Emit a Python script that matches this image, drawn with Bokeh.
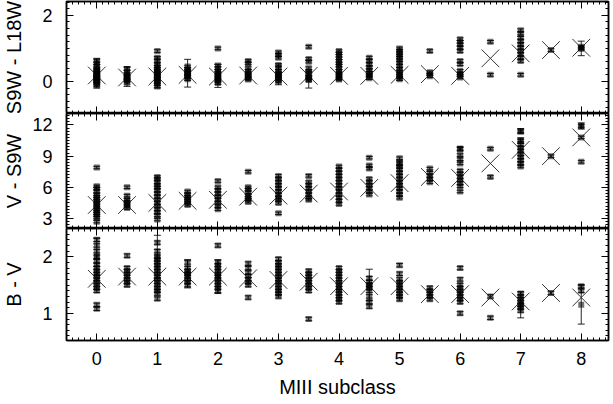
from bokeh.plotting import figure
from bokeh.models import (Range1d, LinearAxis, SingleIntervalTicker, ColumnDataSource,
                          Whisker, TeeHead)
from bokeh.layouts import column
from bokeh.embed import file_html
from bokeh.resources import INLINE

# ---------------- data ----------------
subclasses = [0, 0.5, 1, 1.5, 2, 2.5, 3, 3.5, 4, 4.5, 5, 5.5, 6, 6.5, 7, 7.5, 8]

# S9W - L18W
top_means = [0.18, 0.12, 0.15, 0.2, 0.15, 0.18, 0.15, 0.17, 0.17, 0.17, 0.2, 0.22, 0.17,
             0.7, 0.85, 0.95, 1.02]
top_stars = {
    0: [0.62, 0.55, 0.47, 0.4, 0.35, 0.3, 0.26, 0.22, 0.19, 0.16, 0.13, 0.1, 0.07, 0.04,
        0.01, -0.03, -0.07, -0.12],
    0.5: [0.38, 0.3, 0.22, 0.17, 0.13, 0.1, 0.06, 0.02, -0.04],
    1: [0.92, 0.72, 0.62, 0.52, 0.45, 0.38, 0.32, 0.26, 0.21, 0.16, 0.12, 0.08, 0.03,
        -0.02, -0.08, -0.15],
    1.5: [0.45, 0.38, 0.32, 0.26, 0.21, 0.16, 0.12, 0.07],
    2: [1.0, 0.48, 0.4, 0.32, 0.26, 0.2, 0.15, 0.1, 0.05, 0.0, -0.05],
    2.5: [0.62, 0.55, 0.4, 0.32, 0.25, 0.2, 0.15, 0.1, 0.06],
    3: [0.88, 0.8, 0.72, 0.5, 0.4, 0.32, 0.25, 0.2, 0.15, 0.1, 0.05, 0.0],
    3.5: [1.05, 0.68, 0.6, 0.4, 0.3, 0.22, 0.15, 0.1, 0.05],
    4: [0.92, 0.85, 0.78, 0.7, 0.62, 0.55, 0.48, 0.4, 0.32, 0.25, 0.2, 0.15, 0.1, 0.06],
    4.5: [0.72, 0.62, 0.52, 0.42, 0.34, 0.26, 0.2, 0.15, 0.1],
    5: [1.0, 0.93, 0.86, 0.79, 0.72, 0.64, 0.56, 0.47, 0.38, 0.3, 0.24, 0.18, 0.12, 0.07],
    5.5: [0.92, 0.28, 0.22, 0.16],
    6: [1.28, 1.2, 1.12, 1.02, 0.92, 0.62, 0.52, 0.32, 0.24, 0.18, 0.12],
    6.5: [1.2, 0.2],
    7: [1.55, 1.45, 1.32, 1.22, 1.12, 1.02, 0.92, 0.82, 0.72, 0.62, 0.2],
    7.5: [0.95],
    8: [1.05, 1.0],
}
top_err = 0.04
top_wide = [(0, 0.25, 0.45), (0.5, 0.15, 0.3), (1, 0.27, 0.47), (1.5, 0.25, 0.42),
            (2, 0.17, 0.35), (3, 0.2, 0.3), (3.5, 0.05, 0.25), (8, 1.0, 0.22)]

# V - S9W
mid_means = [4.3, 4.3, 4.5, 4.7, 4.8, 5.1, 5.2, 5.4, 5.6, 5.95, 6.4, 7.0, 6.9, 8.3, 9.6,
             9.0, 10.8]
mid_stars = {
    0: [7.9, 6.1, 5.9, 5.6, 5.3, 5.1, 4.9, 4.7, 4.5, 4.3, 4.1, 3.9, 3.7, 3.5, 3.3, 3.1, 2.7],
    0.5: [6.0, 5.2, 4.8, 4.6, 4.4, 4.2, 4.0],
    1: [7.0, 6.8, 6.5, 6.2, 6.0, 5.7, 5.4, 5.1, 4.8, 4.5, 4.2, 3.9, 3.6, 3.3, 2.9],
    1.5: [5.6, 5.3, 5.1, 4.9, 4.7, 4.5, 4.3],
    2: [6.6, 6.0, 5.7, 5.4, 5.1, 4.8, 4.5, 4.2, 3.9],
    2.5: [7.5, 6.0, 5.8, 5.5, 5.2, 5.0, 4.8, 4.6],
    3: [7.1, 6.8, 6.5, 6.2, 5.9, 5.6, 5.3, 5.0, 4.8, 4.5, 3.5],
    3.5: [7.1, 6.5, 6.2, 5.9, 5.6, 5.3, 5.0, 4.8],
    4: [8.0, 7.7, 7.4, 7.1, 6.8, 6.5, 6.2, 5.9, 5.6, 5.3, 5.0, 4.7, 4.4],
    4.5: [8.85, 8.1, 7.8, 6.8, 6.5, 6.2, 5.9, 5.6, 5.3],
    5: [8.8, 8.3, 8.0, 7.7, 7.4, 7.1, 6.8, 6.5, 6.2, 5.9, 5.6, 5.3, 5.0],
    5.5: [7.8, 7.4, 7.1, 6.8, 6.5],
    6: [9.7, 9.1, 8.7, 8.3, 7.6, 7.3, 7.0, 6.7, 6.4, 6.1, 5.6],
    6.5: [9.7, 7.0],
    7: [11.4, 10.5, 10.1, 9.8, 9.5, 9.2, 8.9, 8.6, 8.3, 8.0],
    7.5: [9.0],
    8: [11.9, 10.8, 8.45],
}
mid_err = 0.12
mid_wide = [(7, 11.4, 0.25), (7, 10.5, 0.25), (8, 11.9, 0.3), (5, 8.3, 0.25),
            (6, 9.7, 0.2)]

# B - V
bot_means = [1.61, 1.65, 1.65, 1.65, 1.65, 1.62, 1.59, 1.56, 1.48, 1.48, 1.48, 1.34, 1.34,
             1.28, 1.21, 1.36, 1.28]
bot_stars = {
    0: [2.3, 2.2, 2.1, 2.0, 1.92, 1.86, 1.8, 1.75, 1.7, 1.65, 1.6, 1.55, 1.5, 1.45, 1.4,
        1.15, 1.08],
    0.5: [2.02, 1.8, 1.75, 1.7, 1.65, 1.6, 1.55, 1.5],
    1: [2.25, 2.1, 2.0, 1.95, 1.9, 1.85, 1.8, 1.75, 1.7, 1.65, 1.6, 1.55, 1.5, 1.45, 1.4,
        1.35, 1.26],
    1.5: [1.9, 1.8, 1.75, 1.7, 1.65, 1.6, 1.55, 1.5],
    2: [2.2, 1.9, 1.85, 1.8, 1.75, 1.7, 1.65, 1.6, 1.55, 1.5, 1.45, 1.4],
    2.5: [1.88, 1.8, 1.72, 1.66, 1.6, 1.55, 1.5, 1.28],
    3: [1.96, 1.9, 1.85, 1.8, 1.75, 1.7, 1.65, 1.6, 1.55, 1.5, 1.45, 1.4, 1.35, 1.3],
    3.5: [1.75, 1.7, 1.65, 1.6, 1.55, 1.5, 1.45, 1.4, 0.9],
    4: [1.8, 1.75, 1.7, 1.65, 1.6, 1.55, 1.5, 1.45, 1.4, 1.35, 1.3, 1.25, 1.2],
    4.5: [1.62, 1.55, 1.5, 1.45, 1.4, 1.3, 1.2, 1.12],
    5: [1.85, 1.7, 1.6, 1.55, 1.5, 1.45, 1.4, 1.35, 1.3, 1.25],
    5.5: [1.45, 1.4, 1.35, 1.3, 1.25],
    6: [1.8, 1.6, 1.5, 1.45, 1.4, 1.35, 1.3, 1.25, 1.2, 1.0],
    6.5: [1.3, 0.92],
    7: [1.35, 1.3, 1.25, 1.2, 1.15, 1.1, 1.05],
    7.5: [1.36],
    8: [1.48, 1.4],
}
bot_err = 0.03
bot_wide = [(0, 2.0, 0.33), (1, 2.0, 0.38), (1.5, 1.7, 0.25), (4.5, 1.5, 0.28),
            (8, 1.15, 0.34), (7, 1.15, 0.23), (2, 1.65, 0.3)]

# ---------------- plotting ----------------
FONT = "Liberation Sans"
x_range = Range1d(-0.5, 8.45)


def flatten(stars, err, wide):
    xs, lo, hi, ys = [], [], [], []
    for k, vals in stars.items():
        for v in vals:
            xs.append(k); ys.append(v); lo.append(v - err); hi.append(v + err)
    for k, v, e in wide:
        xs.append(k); ys.append(v); lo.append(v - e); hi.append(v + e)
    return ColumnDataSource(dict(x=xs, y=ys, lo=lo, hi=hi))


def style_axis(ax, labels):
    ax.major_tick_in = 7
    ax.major_tick_out = 0
    ax.minor_tick_in = 3
    ax.minor_tick_out = 0
    ax.axis_line_color = "black"
    ax.axis_line_width = 1.5
    ax.major_tick_line_color = "black"
    ax.minor_tick_line_color = "black"
    ax.major_tick_line_width = 1
    ax.minor_tick_line_width = 1
    if labels:
        ax.major_label_text_font = FONT
        ax.major_label_text_font_size = "18px"
        ax.major_label_text_color = "black"
        ax.major_label_standoff = 14
        ax.axis_label_text_font = FONT
        ax.axis_label_text_font_size = "20px"
        ax.axis_label_text_font_style = "normal"
        ax.axis_label_text_color = "black"
    else:
        ax.major_label_text_color = None
        ax.major_label_text_font_size = "0px"
        ax.major_label_standoff = 0


def panel(stars, err, wide, means, yr, interval, ylabel, label_standoff,
          frame_h, b_top, b_bottom, show_x):
    p = figure(width=611, height=frame_h + b_top + b_bottom, x_range=x_range,
               y_range=Range1d(*yr), output_backend="svg", toolbar_location=None,
               min_border_left=65, min_border_right=3, min_border_top=b_top,
               min_border_bottom=b_bottom, x_axis_location=None, y_axis_location=None)
    p.outline_line_color = "black"
    p.outline_line_width = 1.5
    p.background_fill_color = "white"
    p.border_fill_color = "white"
    p.xgrid.visible = False
    p.ygrid.visible = False

    xt = SingleIntervalTicker(interval=1, num_minor_ticks=10)
    yt = SingleIntervalTicker(interval=interval, num_minor_ticks=10)

    xb = LinearAxis(ticker=xt)
    style_axis(xb, show_x)
    if show_x:
        xb.axis_label = "MIII subclass"
        xb.major_label_standoff = 11
        xb.axis_label_standoff = 8
    p.add_layout(xb, "below")
    xa = LinearAxis(ticker=xt)
    style_axis(xa, False)
    p.add_layout(xa, "above")

    yl = LinearAxis(ticker=yt, axis_label=ylabel)
    style_axis(yl, True)
    yl.axis_label_standoff = label_standoff
    p.add_layout(yl, "left")
    yr_ax = LinearAxis(ticker=yt)
    style_axis(yr_ax, False)
    p.add_layout(yr_ax, "right")

    src = flatten(stars, err, wide)
    p.scatter(subclasses, means, marker="x", size=25, line_color="#333333",
              line_width=1)
    head = dict(size=7, line_color="black", line_width=1, line_alpha=0.85)
    p.add_layout(Whisker(source=src, base="x", upper="hi", lower="lo",
                         line_color="black", line_width=1, line_alpha=0.85,
                         upper_head=TeeHead(**head), lower_head=TeeHead(**head)))
    p.scatter("x", "y", source=src, marker="square", size=6, fill_color="black",
              fill_alpha=0.55, line_color=None)
    return p


p1 = panel(top_stars, top_err, top_wide, top_means, (-0.97, 2.42), 2, "S9W - L18W", 14,
           112, 1, 0, False)
p2 = panel(mid_stars, mid_err, mid_wide, mid_means, (2.04, 13.1), 3, "V - S9W", 4,
           115, 0, 0, False)
p3 = panel(bot_stars, bot_err, bot_wide, bot_means, (0.52, 2.5), 1, "B - V", 14,
           115, 0, 57, True)

layout = column(p1, p2, p3, spacing=0)
open("out.html", "w").write(file_html(layout, INLINE))
